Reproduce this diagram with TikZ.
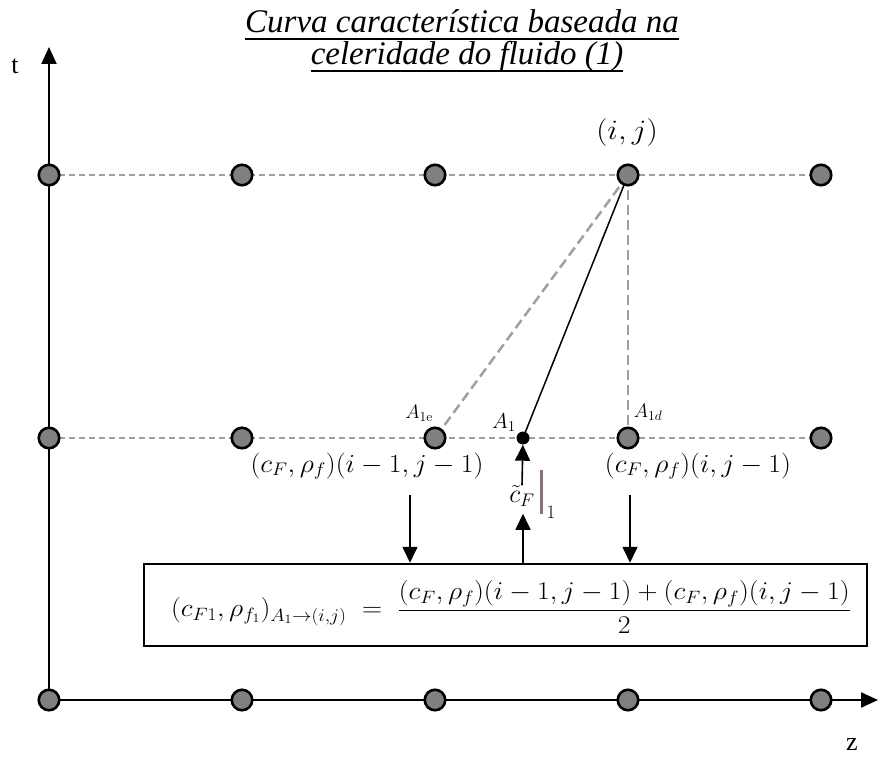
\RequirePackage{fix-cm}
\documentclass[tikz,border=0pt]{standalone}
\usepackage[no-math]{fontspec}
\setmainfont{Liberation Serif}
\usetikzlibrary{arrows.meta}
\definecolor{ptgray}{HTML}{808080}
\definecolor{dashgray}{HTML}{A0A0A0}
\definecolor{barcol}{HTML}{8C7373}
\pgfdeclarelayer{bg}
\pgfsetlayers{bg,main}
\begin{document}
\begin{tikzpicture}[x=1pt,y=-1pt,
  gridpt/.style={circle, draw=black, fill=ptgray, line width=2.6pt, minimum size=20.5pt, inner sep=0pt},
  adot/.style={circle, fill=black, minimum size=13pt, inner sep=0pt},
  gridline/.style={dashgray, line width=1.5pt, dash pattern=on 6pt off 4pt},
  heavydash/.style={dashgray, line width=2.5pt, dash pattern=on 10pt off 5pt},
  axis/.style={line width=2pt, -{Triangle[length=17pt,width=15pt]}},
  arr/.style={line width=1.6pt, -{Triangle[length=16pt,width=15pt]}},
  mathlbl/.style={font=\fontsize{26}{30}\selectfont, inner sep=0pt},
  smalllbl/.style={font=\fontsize{19.5}{22}\selectfont, inner sep=0pt},
  titlefont/.style={font=\fontsize{33}{36}\selectfont\itshape, inner sep=0pt, anchor=base},
  axlbl/.style={font=\fontsize{26}{30}\selectfont, inner sep=0pt}]
\useasboundingbox (0,0) rectangle (892,760);

% title
\node[titlefont] (t1) at (462,33) {Curva característica baseada na};
\node[titlefont] (t2) at (467,65) {celeridade do fluido (1)};
\draw[line width=1.3pt] ([yshift=-6pt]t1.base west) -- ([yshift=-6pt]t1.base east);
\draw[line width=1.3pt] ([yshift=-6pt]t2.base west) -- ([yshift=-6pt]t2.base east);

% grid points
\foreach \c [count=\i] in {49,242,435,628,821}
  \foreach \r [count=\j] in {175,438,700}
    \node[gridpt] (n-\i-\j) at (\c,\r) {};
\node[adot] (a1) at (523,438) {};

% axes endpoints
\coordinate (ttip) at (49,47);
\coordinate (ztip) at (878,700);

\begin{pgfonlayer}{bg}
  \draw[gridline] (n-1-1.center) -- (n-5-1.center);
  \draw[gridline] (n-1-2.center) -- (n-5-2.center);
  \draw[axis] (n-1-3.center) -- (ttip);
  \draw[axis] (n-1-3.center) -- (ztip);
  \draw[heavydash] (n-4-1.center) -- (n-3-2.center);
  \draw[heavydash] (n-4-1.center) -- (n-4-2.center);
  \draw[line width=1.5pt] (n-4-1.center) -- (a1.center);
\end{pgfonlayer}

% axis labels
\node[axlbl] (tl) at (15,66) {t};
\node[axlbl] (zl) at (852,745) {z};

% point labels
\node[font=\fontsize{28}{32}\selectfont, inner sep=0pt] (ij) at (627,133) {\scalebox{1.13}[1]{$(i,j)$}};
\node[smalllbl] (a1e) at (419,413) {$A_{1\mathrm{e}}$};
\node[font=\fontsize{21.5}{25}\selectfont, inner sep=0pt] (a1lbl) at (504,423) {$A_1$};
\node[smalllbl] (a1d) at (648,412) {$A_{1d}$};

\node[mathlbl] (lab1) at (367,466) {\scalebox{1.07}[1]{$(c_F,\rho_f)(i-1,j-1)$}};
\node[mathlbl] (lab2) at (698,466) {\scalebox{1.07}[1]{$(c_F,\rho_f)(i,j-1)$}};

% equation box
\node[draw=black, line width=2.5pt, minimum width=723pt, minimum height=82pt, inner sep=0pt] (box) at (505.5,605) {};
\node[font=\fontsize{25.5}{30}\selectfont, inner sep=0pt] (eq) at (511,607)
  {\scalebox{1.09}[1]{$\displaystyle (c_{F1},\rho_{f_1})_{A_1\rightarrow(i,j)} \;=\; \frac{(c_F,\rho_f)(i-1,j-1)+(c_F,\rho_f)(i,j-1)}{2}$}};

% c tilde label with evaluation bar
\node[font=\fontsize{26}{30}\selectfont, inner sep=0pt] (cf) at (522,496) {$\tilde{c}_F$};
\coordinate (bartop) at (541,470);
\coordinate (barbot) at (541,514);
\draw[barcol, line width=3pt] (bartop) -- (barbot);
\node[font=\fontsize{19}{22}\selectfont, inner sep=0pt] (one) at (551,512) {$1$};

% arrows
\draw[arr] (cf.north) -- (a1);
\draw[arr] (box.north -| a1) -- ++(0,-49);
\coordinate (d1) at (410,495);
\coordinate (d2) at (630,495);
\draw[arr] (d1) -- (d1 |- box.north);
\draw[arr] (d2) -- (d2 |- box.north);
\end{tikzpicture}
\end{document}
